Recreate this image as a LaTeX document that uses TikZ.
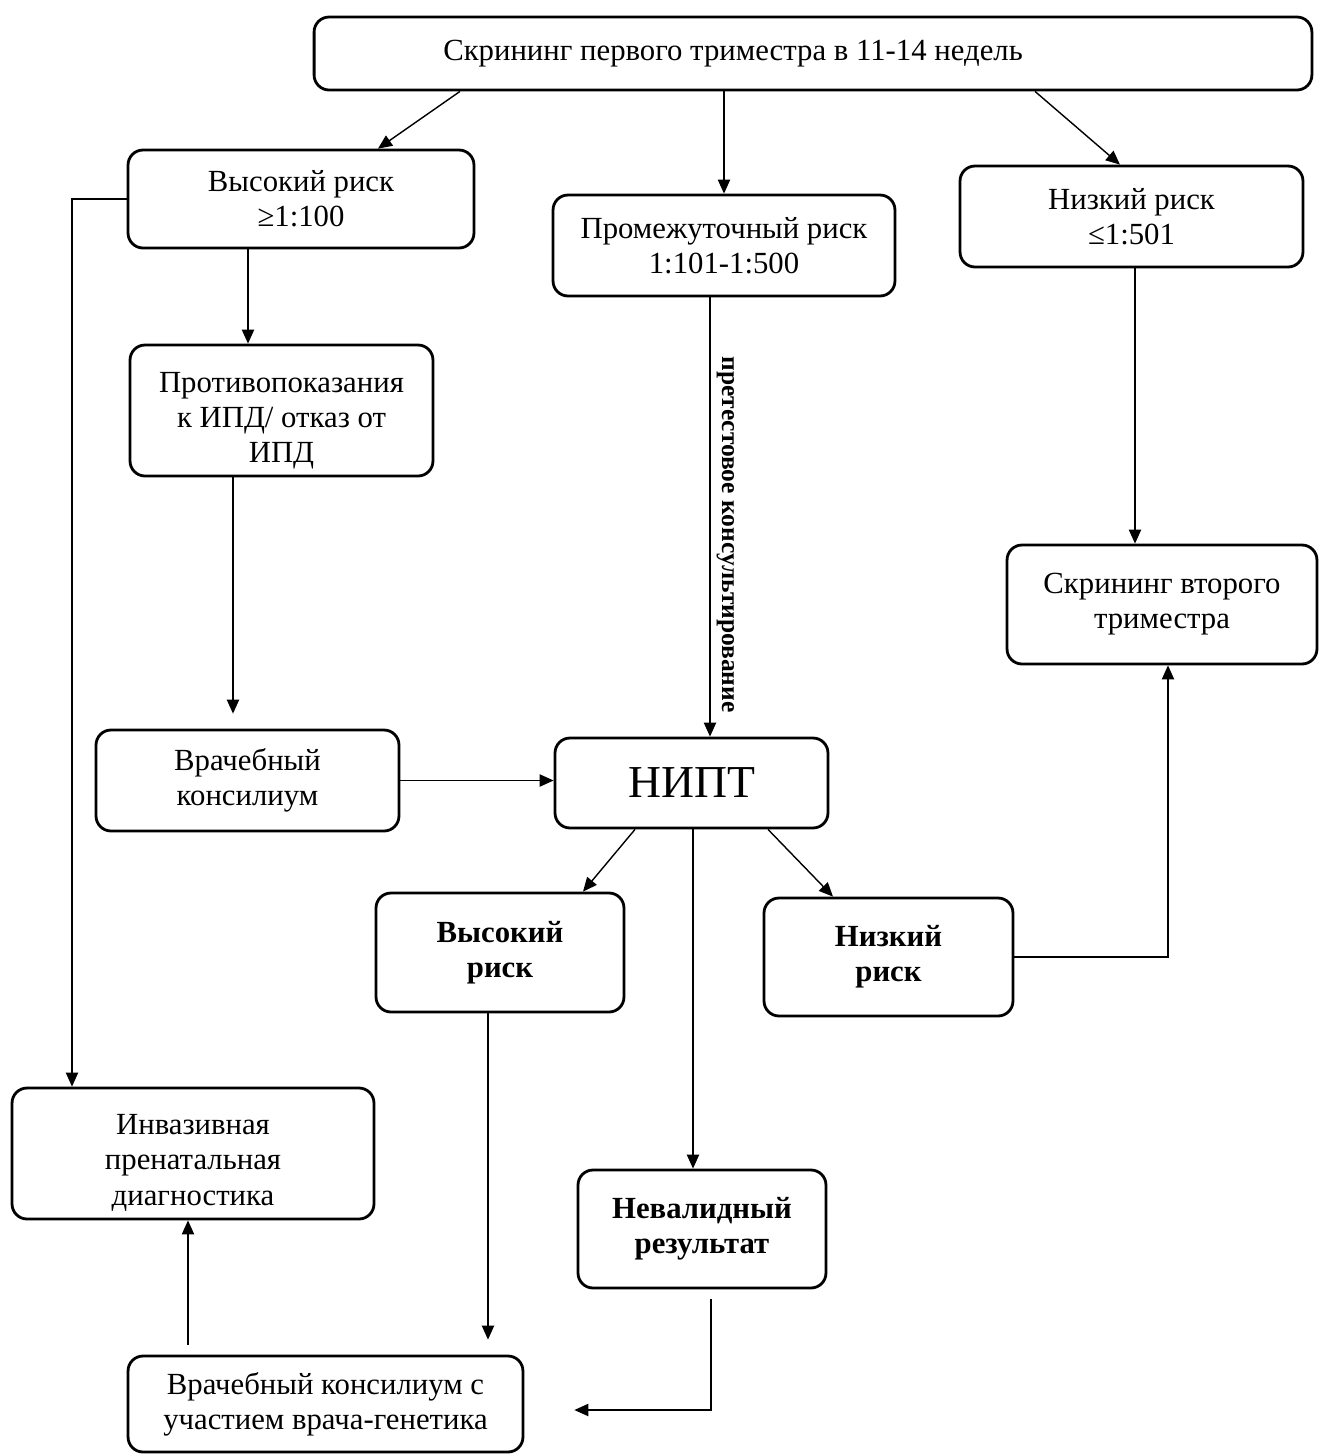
\documentclass[tikz,border=0pt]{standalone}
\usepackage{fontspec}
\setmainfont{Liberation Serif}
\usetikzlibrary{arrows.meta}

\begin{document}
\begin{tikzpicture}[x=0.02cm, y=-0.02cm,
			box/.style = {shape=rectangle, rounded corners=0.3cm,
				draw, line width=1.6pt, align=center,
				font=\fontsize{17.5}{20}\selectfont},
			bbox/.style = {box, font=\fontsize{17.5}{20}\selectfont\bfseries},
			arr/.style = {-{Triangle[length=8pt,width=7pt]}, line width=0.8pt}]
			\useasboundingbox (0,0) rectangle (1320,1455);
			% boxes
			\node[box, minimum width=19.96cm, minimum height=1.46cm] (scr1) at (813,53.5) {Скрининг первого триместра в 11-14 недель\hspace*{3.2cm}};
			\node[box, minimum width=6.92cm, minimum height=1.96cm] (high) at (301,199) {Высокий риск\\≥1:100};
			\node[box, minimum width=6.84cm, minimum height=2.02cm] (mid) at (724,245.5) {Промежуточный риск\\1:101-1:500};
			\node[box, minimum width=6.86cm, minimum height=2.02cm] (low) at (1131.5,216.5) {Низкий риск\\≤1:501};
			\node[box, minimum width=6.06cm, minimum height=2.62cm] (contra) at (281.5,410.5) {\rule{0pt}{23pt}Противопоказания\\к ИПД/ отказ от\\ИПД};
			\node[box, minimum width=6.2cm, minimum height=2.38cm] (scr2) at (1162,604.5) {Скрининг второго\\триместра};
			\node[box, minimum width=6.06cm, minimum height=2.02cm] (vrach) at (247.5,780.5) {Врачебный\\консилиум};
			\node[box, minimum width=5.46cm, minimum height=1.8cm, font=\fontsize{26}{30}\selectfont] (nipt) at (691.5,783) {НИПТ};
			\node[bbox, minimum width=4.96cm, minimum height=2.38cm] (high2) at (500,952.5) {Высокий\\риск};
			\node[bbox, minimum width=4.98cm, minimum height=2.36cm] (low2) at (888.5,957) {Низкий\\риск};
			\node[box, minimum width=7.24cm, minimum height=2.62cm] (inv) at (193,1153.5) {\rule{0pt}{22pt}Инвазивная\\пренатальная\\диагностика};
			\node[bbox, minimum width=4.96cm, minimum height=2.36cm] (nev) at (702,1229) {Невалидный\\результат};
			\node[box, minimum width=7.9cm, minimum height=1.92cm] (cons) at (325.5,1404) {Врачебный консилиум с\\участием врача-генетика};
			% arrows
			\draw[arr] (scr1.south -| 460,0) -- (high.north -| 378,0);
			\draw[arr] (scr1.south -| mid) -- (mid.north);
			\draw[arr] (scr1.south -| 1035,0) -- (low.north -| 1120,0);
			\draw[arr] (high.south -| 248,0) -- (contra.north -| 248,0);
			\draw[arr, shorten >=0.3cm] (contra.south -| 233,0) -- (vrach.north -| 233,0);
			\draw[arr] (high.west) -| (inv.north -| 72,0);
			\draw[arr] (mid.south -| 710,0) -- (nipt.north -| 710,0)
				node[pos=0.54, rotate=-90, anchor=south, font=\fontsize{14.5}{16}\selectfont\bfseries] {претестовое консультирование};
			\draw[arr] (low.south -| 1135,0) -- (scr2.north -| 1135,0);
			\draw[arr] (vrach.east) -- (vrach.east -| nipt.west);
			\draw[arr] (nipt.south -| 635,0) -- (high2.north -| 583,0);
			\draw[arr] (nipt.south -| 768,0) -- (low2.north -| 833,0);
			\draw[arr] (nipt.south -| 693,0) -- (nev.north -| 693,0);
			\draw[arr] (low2.east) -| (scr2.south -| 1168,0);
			\draw[arr, shorten >=0.3cm] (high2.south -| 488,0) -- (cons.north -| 488,0);
			\draw[arr, shorten <=0.2cm, shorten >=1cm] (nev.south -| 711,0) |- (cons.east |- 0,1410);
			\draw[arr, shorten <=0.2cm] (cons.north -| 188,0) -- (inv.south -| 188,0);
\end{tikzpicture}
\end{document}
